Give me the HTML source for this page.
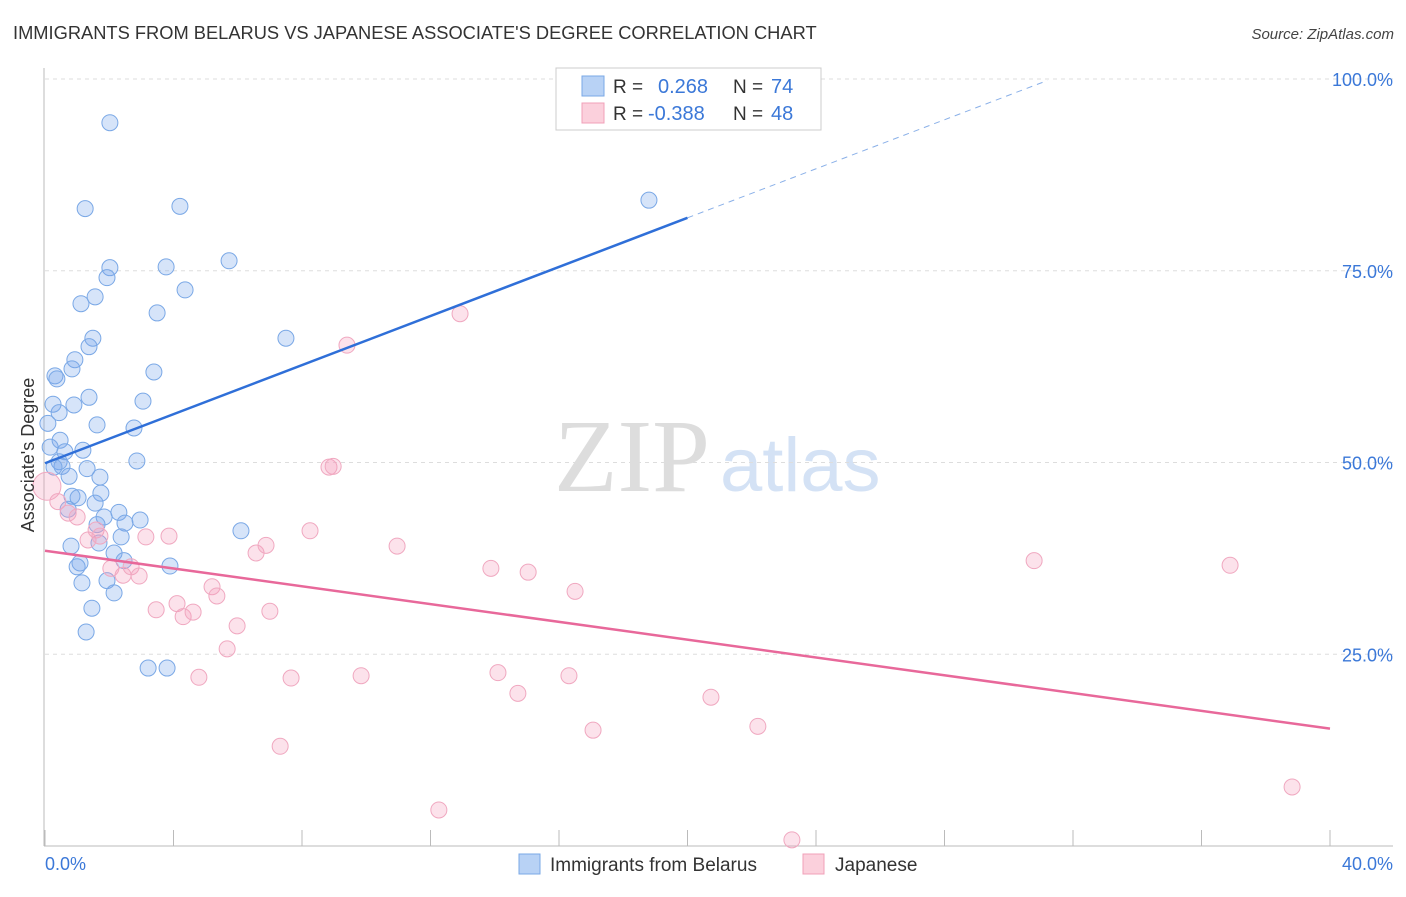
<!DOCTYPE html>
<html><head><meta charset="utf-8"><style>
body{margin:0;background:#fff;font-family:"Liberation Sans",sans-serif;}
</style></head><body>
<svg id="chart" width="1406" height="892" xmlns="http://www.w3.org/2000/svg" style="font-family:'Liberation Sans',sans-serif">
<text x="13" y="39" font-size="18.3" fill="#333">IMMIGRANTS FROM BELARUS VS JAPANESE ASSOCIATE'S DEGREE CORRELATION CHART</text>
<text x="1394" y="39" font-size="15" fill="#444" font-style="italic" text-anchor="end">Source: ZipAtlas.com</text>
<text x="554" y="491" font-size="104" fill="#ddd" font-family="Liberation Serif,serif">ZIP</text>
<text x="720" y="491" font-size="76" fill="#d4e2f5">atlas</text>
<g id="grid"></g><g id="pts"></g><g id="lines"></g>
<text transform="translate(34,455) rotate(-90)" font-size="18" fill="#333" text-anchor="middle">Associate's Degree</text>
<text x="45" y="870" font-size="18" fill="#3b78d8">0.0%</text>
<text x="1393" y="870" font-size="18" fill="#3b78d8" text-anchor="end">40.0%</text>
<g>
<rect x="556" y="68" width="265" height="62" fill="#fff" stroke="#ccc"/>
<rect x="582" y="76" width="22" height="20" fill="#b8d2f5" stroke="#7aa8e6"/>
<rect x="582" y="103" width="22" height="20" fill="#fbd0dc" stroke="#f0a0b8"/>
<text x="613" y="93" font-size="19" fill="#333">R = </text><text x="658" y="93" font-size="20" fill="#3b78d8">0.268</text>
<text x="733" y="93" font-size="19" fill="#333">N = </text><text x="771" y="93" font-size="20" fill="#3b78d8">74</text>
<text x="613" y="120" font-size="19" fill="#333">R = </text><text x="648" y="120" font-size="20" fill="#3b78d8">-0.388</text>
<text x="733" y="120" font-size="19" fill="#333">N = </text><text x="771" y="120" font-size="20" fill="#3b78d8">48</text>
</g>
<g>
<rect x="519" y="854" width="21" height="20" fill="#b8d2f5" stroke="#7aa8e6"/>
<text x="550" y="871" font-size="19" fill="#333">Immigrants from Belarus</text>
<rect x="803" y="854" width="21" height="20" fill="#fbd0dc" stroke="#f0a0b8"/>
<text x="835" y="871" font-size="19" fill="#333">Japanese</text>
</g>
</svg>
<script>
const yTicks=[25,50,75,100];
const yTickLabels=["25.0%","50.0%","75.0%","100.0%"];
const xTicks=[0,4,8,12,16,20,24,28,32,36,40];
const blueX=[2.02,1.25,4.20,5.73,2.02,3.77,1.93,4.36,1.56,1.12,3.49,7.50,1.49,1.37,0.93,3.39,0.31,0.37,0.84,1.37,3.05,0.90,0.25,0.44,1.62,2.77,0.09,0.47,1.18,0.62,0.16,2.86,0.44,0.53,1.31,0.28,1.71,0.75,1.74,0.84,1.03,1.56,0.72,2.30,1.84,2.96,2.49,1.62,6.10,2.37,1.68,0.81,2.15,2.46,1.09,1.00,3.89,1.15,1.93,2.15,1.46,1.28,3.21,3.80,18.80];
const blueY=[94.3,83.1,83.4,76.3,75.4,75.5,74.1,72.5,71.6,70.7,69.5,66.2,66.2,65.1,63.4,61.8,61.3,60.9,62.2,58.5,58.0,57.5,57.6,56.5,54.9,54.5,55.1,52.9,51.6,51.4,52.0,50.2,50.1,49.5,49.2,49.4,48.1,48.2,46.0,45.6,45.4,44.7,43.9,43.5,42.9,42.5,42.1,41.9,41.1,40.3,39.5,39.1,38.2,37.2,36.9,36.4,36.5,34.3,34.6,33.0,31.0,27.9,23.2,23.2,84.2];
const pinkX=[0.06,0.40,0.72,1.00,1.34,1.59,1.71,2.05,2.43,2.68,2.93,3.14,3.86,3.46,4.11,4.30,4.61,5.20,5.35,5.67,5.98,6.57,6.88,7.00,4.79,7.66,7.32,8.25,8.84,8.97,9.40,9.84,10.96,12.26,12.92,13.88,14.10,14.72,15.04,16.31,16.50,17.06,20.73,22.19,23.25,30.79,36.89,38.82];
const pinkY=[46.9,44.9,43.4,42.9,39.9,41.2,40.4,36.2,35.3,36.4,35.2,40.3,40.4,30.8,31.6,29.9,30.5,33.8,32.6,25.7,28.7,38.2,39.2,30.6,22.0,21.9,13.0,41.1,49.4,49.5,65.3,22.2,39.1,4.7,69.4,36.2,22.6,19.9,35.7,22.2,33.2,15.1,19.4,15.6,0.8,37.2,36.6,7.7];
const blueTrend=[49.9,81.9,99.8];const blueTrendX=[0,20,31.2];
const pinkTrend=[38.5,15.3];const pinkTrendX=[0,40];
const NS="http://www.w3.org/2000/svg";
const sx=v=>45+v*32.125, sy=v=>846-v*7.67;
function mk(t,a,p){const e=document.createElementNS(NS,t);for(const k in a)e.setAttribute(k,a[k]);p.appendChild(e);return e;}
const g=document.getElementById('grid');
yTicks.forEach((t,i)=>{
 const l=mk('line',{x1:45,x2:1393,y1:sy(t),y2:sy(t),stroke:'#ddd','stroke-dasharray':'4,4'},g);
 
 
 const tx=mk('text',{x:1393,y:sy(t)+7,'font-size':18,fill:'#3b78d8','text-anchor':'end'},g);
 tx.textContent=yTickLabels[i];
 
 
});
const ax=mk('line',{x1:44,x2:44,y1:68,y2:846,stroke:'#bbb'},g);


const bx=mk('line',{x1:44,x2:1393,y1:846,y2:846,stroke:'#bbb'},g);


xTicks.forEach(t=>{const l=mk('line',{x1:sx(t),x2:sx(t),y1:830,y2:846,stroke:'#bbb'},g);
 
 });
const p=document.getElementById('pts');
blueX.forEach((x,i)=>{const c=mk('circle',{cx:sx(x),cy:sy(blueY[i]),r:8,fill:'rgba(120,165,235,0.3)',stroke:'#7aa8e6','stroke-width':1},p);
 
 });
pinkX.forEach((x,i)=>{const c=mk('circle',{cx:sx(x),cy:sy(pinkY[i]),r:i==0?14:8,fill:'rgba(245,160,190,0.3)',stroke:'#f0a8c0','stroke-width':1},p);
 
 });
const L=document.getElementById('lines');
const b1=mk('line',{x1:sx(blueTrendX[0]),y1:sy(blueTrend[0]),x2:sx(blueTrendX[1]),y2:sy(blueTrend[1]),stroke:'#2f6fd8','stroke-width':2.5},L);


const b2=mk('line',{x1:sx(blueTrendX[1]),y1:sy(blueTrend[1]),x2:sx(blueTrendX[2]),y2:sy(blueTrend[2]),stroke:'#8ab0e8','stroke-width':1,'stroke-dasharray':'6,5'},L);


const p1=mk('line',{x1:sx(pinkTrendX[0]),y1:sy(pinkTrend[0]),x2:sx(pinkTrendX[1]),y2:sy(pinkTrend[1]),stroke:'#e8689a','stroke-width':2.5},L);


</script>
</body></html>
